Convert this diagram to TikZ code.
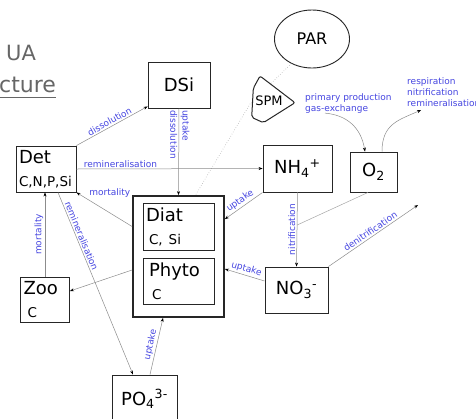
\documentclass[tikz,border=0pt]{standalone}
\usepackage{fontspec}
\setmainfont{DejaVu Sans}
\usetikzlibrary{arrows.meta,shapes.geometric}
\definecolor{fluxblue}{RGB}{70,70,225}
\newcommand{\bigsize}{\fontsize{18}{23}\selectfont}
\newcommand{\subsize}{\fontsize{13.5}{23}\selectfont}

\begin{document}
\begin{tikzpicture}[x=1pt, y=-1pt,
		pool/.style={draw=black!85, line width=0.9pt, rectangle, inner sep=3pt, align=left, font=\bigsize},
		flux/.style={draw=black!45, line width=0.5pt, ->},
		link/.style={draw=black!35, line width=0.5pt},
		lbl/.style={text=fluxblue, font=\fontsize{9}{11}\selectfont, inner sep=1.5pt},
		>={Stealth[length=4pt, width=3pt, black]}]
	\path[use as bounding box, fill=white] (0,0) rectangle (476,418);
	\node[text=black!60, font=\fontsize{21}{24}\selectfont, anchor=base west, inner sep=0pt] (ua) at (6,60) {UA};
	\node[text=black!60, font=\fontsize{22}{24}\selectfont, anchor=base west, inner sep=0pt] (cture) at (-1,92) {cture};
	\draw[black!60, line width=0.8pt] ([yshift=-5pt]cture.base west) -- ([yshift=-5pt]cture.base east);

	\node[pool, minimum width=62pt, minimum height=46pt, align=center] (dsi) at (179,85) {DSi};
	\node[pool, text width=54pt, minimum height=46pt] (det) at (46,169) {Det\\{\subsize C,N,P,Si}};
	\node[pool, minimum width=69pt, minimum height=47pt, align=center] (nh4) at (297.5,168.5) {NH\textsubscript{4}\textsuperscript{+}};
	\node[pool, minimum width=47pt, minimum height=40pt, align=center] (o2) at (373.5,172) {O\textsubscript{2}};
	\node[pool, minimum width=63pt, minimum height=46pt, align=center] (no3) at (296.5,290) {NO\textsubscript{3}\textsuperscript{-}};
	\node[pool, minimum width=65pt, minimum height=48pt, align=center] (po4) at (144.5,399) {PO\textsubscript{4}\textsuperscript{3-}};
	\node[pool, text width=43pt, minimum height=45pt] (zoo) at (45,299.5) {Zoo\\{\subsize\hspace{4pt}C}};
	\node[pool, line width=1.8pt, minimum width=91pt, minimum height=121pt] (algae) at (178.5,256.5) {};
	\node[pool, text width=65pt, minimum height=47pt] (diat) at (178.5,226.5) {Diat\\{\subsize\hspace{3pt}C, Si}};
	\node[pool, text width=65pt, minimum height=46pt] (phyto) at (178.5,281) {\hspace{3pt}Phyto\\{\subsize\hspace{6pt}C}};
	\node[draw=black!85, line width=0.9pt, ellipse, minimum width=75pt, minimum height=58pt, font=\fontsize{16}{18}\selectfont] (par) at (312,39) {PAR};

	\coordinate (spmbend) at (250,104);
	\draw[link, dotted, line width=0.6pt] (par.-130) -- (spmbend) -- ([xshift=17pt]algae.north);
	\draw[draw=black!85, fill=white, line width=1pt, rounded corners=2pt] (260,76) -- (295,102.7) -- (263.3,122.7) -- (251.7,117.3) -- (253.3,88.3) -- cycle;
	\node[font=\fontsize{13}{15}\selectfont, inner sep=0pt] (spm) at (269,101) {SPM};

	\node[lbl, anchor=north west, align=left, inner sep=0pt] (prodtext) at (305,93) {primary production\\gas-exchange};
	\node[lbl, anchor=north west, align=left, inner sep=0pt] (resptext) at (407,77) {respiration\\nitrification\\remineralisation};
	\coordinate (resp) at (421,110);
	\coordinate (denit) at (418,205);

	\draw[flux] (det.north east) -- node[lbl, sloped, above] {dissolution} ([yshift=2pt]dsi.south west);
	\draw[flux] (dsi.south) -- node[lbl, pos=0, anchor=north west, rotate=-90] {dissolution} node[lbl, pos=0, anchor=south west, rotate=-90] {uptake} (algae.north);
	\draw[flux] (det.east) -- node[lbl, pos=0.03, anchor=south west] {remineralisation} (nh4.west);
	\draw[flux] (algae.west |- diat.center) -- node[lbl, pos=0.8, anchor=south west] {mortality} (det.south east);
	\draw[flux] (zoo.north) -- node[lbl, midway, anchor=south, rotate=90] {mortality} (zoo.north |- det.south);
	\draw[flux] ([xshift=12pt]det.south) -- node[lbl, sloped, above, pos=0.25] {remineralisation} ([xshift=-11.5pt]po4.north);
	\draw[flux] ([yshift=-13.5pt]algae.west) -- ([yshift=8.5pt]zoo.east);
	\draw[flux] ([xshift=5.5pt]po4.north) -- node[lbl, sloped, above] {uptake} ([xshift=-15.5pt]algae.south);
	\draw[flux] (nh4.south west) -- node[lbl, sloped, above] {uptake} ([yshift=-24pt]algae.north east);
	\draw[flux] ([yshift=9pt]no3.west) -- node[lbl, sloped, above] {uptake} ([yshift=-12.5pt]algae.east);
	\draw[flux] (nh4.south) -- node[lbl, midway, anchor=south, rotate=90] {nitrification} coordinate[pos=0.44] (nitpoint) (no3.north);
	\draw[link] ([xshift=-5.5pt]o2.south) -- (nitpoint);
	\draw[flux] (no3.north east) -- node[lbl, sloped, above] {denitrification} (denit);
	\draw[flux] ([xshift=20pt]prodtext.south west) .. controls +(22,2) and +(-4,-24) .. ([xshift=-8.5pt]o2.north);
	\draw[flux] ([xshift=8.5pt]o2.north) .. controls +(0,-28) and +(-22,10) .. (resp);
\end{tikzpicture}
\end{document}
